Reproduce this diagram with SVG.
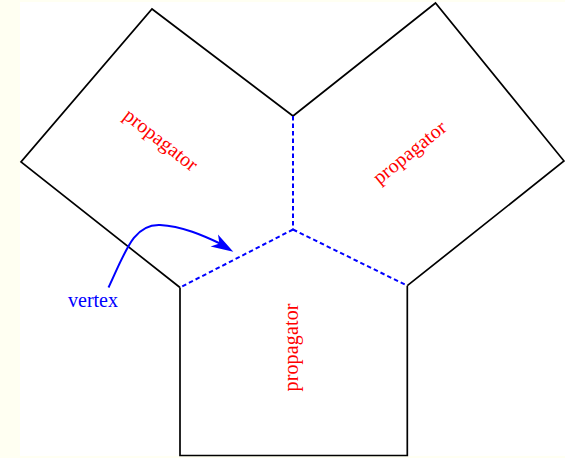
<svg xmlns="http://www.w3.org/2000/svg" width="565" height="458" viewBox="0 0 565 458">
  <style>
    .edge { fill: none; stroke: #000; stroke-width: 1.7; stroke-linejoin: miter; }
    .cut { fill: none; stroke: #0000ff; stroke-width: 2; stroke-dasharray: 4.5 3; }
    .lbl { font-family: "Liberation Serif", "DejaVu Serif", serif; font-size: 20px; fill: #ff0000; text-anchor: middle; }
    .vlbl { font-family: "Liberation Serif", "DejaVu Serif", serif; font-size: 20px; fill: #0000ff; text-anchor: middle; }
    .arrow { fill: none; stroke: #0000ff; stroke-width: 2; }
  </style>

  <!-- page background with ivory margin -->
  <rect x="0" y="0" width="565" height="458" fill="#fffff2"/>
  <rect x="20" y="2" width="545" height="454" fill="#ffffff"/>

  <!-- left propagator piece -->
  <g id="propagator-left">
    <polyline class="edge" points="293,116 152,9 21,162 180,287.5"/>
    <text class="lbl" transform="translate(160,141) rotate(38)" x="0" y="5" textLength="88">propagator</text>
  </g>

  <!-- right propagator piece -->
  <g id="propagator-right">
    <polyline class="edge" points="293,116 435.5,3 564,161 407.3,285.7"/>
    <text class="lbl" transform="translate(410.5,153.5) rotate(-39)" x="0" y="5" textLength="88">propagator</text>
  </g>

  <!-- bottom propagator piece -->
  <g id="propagator-bottom">
    <polyline class="edge" points="180,287.5 180,455.5 407.3,455.5 407.3,285.7"/>
    <text class="lbl" transform="translate(297.5,347.5) rotate(-90)" x="0" y="0" textLength="88">propagator</text>
  </g>

  <!-- dashed cuts meeting at the vertex -->
  <g id="vertex">
    <line class="cut" x1="293" y1="116" x2="293" y2="229.5" stroke-width="2.4" stroke-dasharray="4 2.5"/>
    <line class="cut" x1="293" y1="229.5" x2="180" y2="287.5"/>
    <line class="cut" x1="293" y1="229.5" x2="407.3" y2="285.7"/>
  </g>

  <!-- vertex label -->
  <g id="vertex-label">
    <text class="vlbl" x="93" y="307">vertex</text>
  </g>

  <!-- pointer from the label to the vertex -->
  <g id="connectors">
    <path class="arrow" d="M108.5,287.5 C126,250 134,224 160,225 C182,226 204,236 220,243.5"/>
    <polygon fill="#0000ff" points="233.3,251.7 210.6,246.5 219.4,243.6 218,234.5"/>
  </g>
</svg>
